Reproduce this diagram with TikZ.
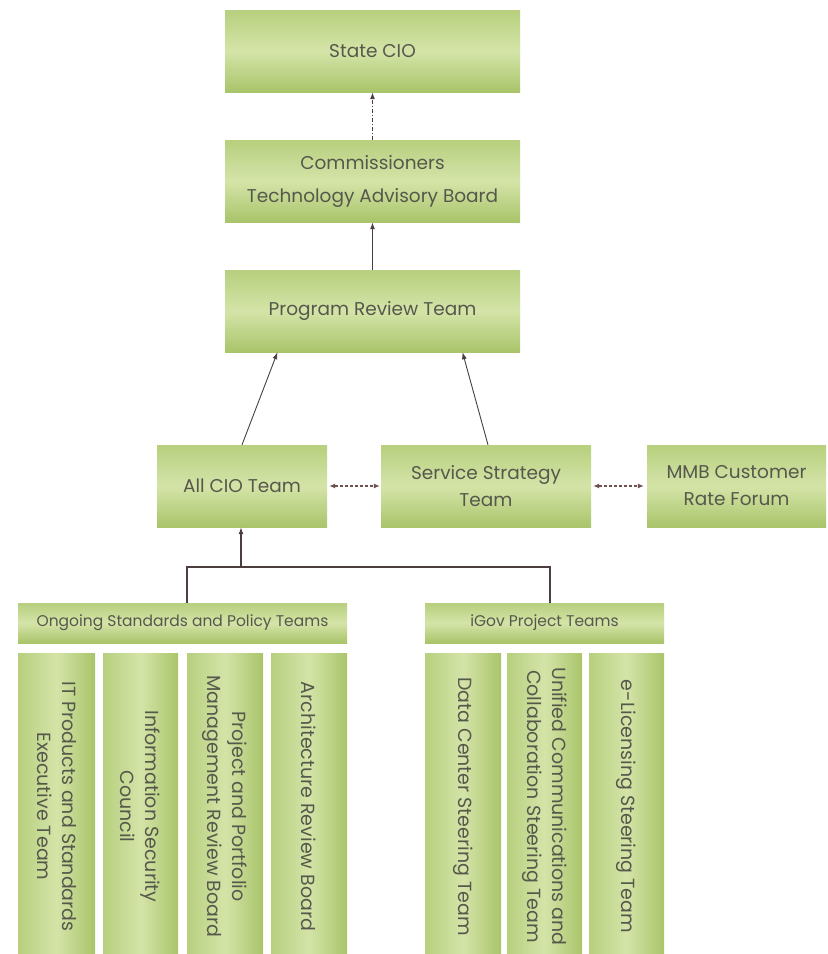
\documentclass[tikz,border=0pt]{standalone}
\usepackage{fontspec}
\setmainfont{Poppins}
\usetikzlibrary{arrows.meta}
\definecolor{gdark}{HTML}{A9C46A}
\definecolor{gtop}{HTML}{B7CF7E}
\definecolor{glight}{HTML}{D4E4A8}
\definecolor{txt}{HTML}{56584C}
\definecolor{lnc}{HTML}{4A3E3E}
\definecolor{dshc}{HTML}{6E5252}
\tikzset{
  hbox/.style={rectangle, top color=gtop, bottom color=gdark, middle color=glight, shading angle=0,
    text=txt, font=\fontsize{18.5}{27}\selectfont, align=center, inner sep=0pt, minimum height=82pt},
  hdr/.style={hbox, minimum height=40pt, font=\fontsize{15.5}{18}\selectfont},
  colbox/.style={rectangle, left color=gtop, right color=gdark, middle color=glight, inner sep=0pt,
    minimum height=301pt},
  coltext/.style={rotate=-90, text=txt, font=\fontsize{19}{25}\selectfont, align=center, inner sep=0pt},
  conn/.style={draw=lnc, line width=1.1pt, -{Latex[length=7pt,width=5pt]}},
  dconn/.style={draw=dshc, line width=1.1pt, dash pattern=on 3pt off 2pt, {Latex[length=6pt,width=5pt]}-{Latex[length=6pt,width=5pt]}},
}
\begin{document}
\begin{tikzpicture}[x=1pt,y=-1pt]
\useasboundingbox (0,0) rectangle (828,954);
\fill[white] (0,0) rectangle (828,954);
% top chain
\node[hbox, minimum width=295pt] (cio) at (372.5,51) {State CIO};
\node[hbox, minimum width=295pt, font=\fontsize{18.5}{33}\selectfont] (ctab) at (372.5,181) {Commissioners\\Technology Advisory Board};
\node[hbox, minimum width=295pt] (prt) at (372.5,311) {Program Review Team};
% middle row
\node[hbox, minimum width=170pt] (allcio) at (242,486) {All CIO Team};
\node[hbox, minimum width=210pt] (sst) at (486,486) {Service Strategy\\Team};
\node[hbox, minimum width=179pt] (mmb) at (736.5,486) {MMB Customer\\Rate Forum};
% headers
\node[hdr, minimum width=329pt] (ong) at (182.5,623) {Ongoing Standards and Policy Teams};
\node[hdr, minimum width=239pt] (igov) at (544.5,623) {iGov Project Teams};
% columns
\node[colbox, minimum width=77pt] (c1) at (56.5,803.5) {};
\node[colbox, minimum width=75pt] (c2) at (140.5,803.5) {};
\node[colbox, minimum width=76pt] (c3) at (225,803.5) {};
\node[colbox, minimum width=76pt] (c4) at (309,803.5) {};
\node[colbox, minimum width=76pt] (g1) at (463,803.5) {};
\node[colbox, minimum width=75pt] (g2) at (544.5,803.5) {};
\node[colbox, minimum width=75pt] (g3) at (626.5,803.5) {};
\node[coltext] (t1) at ([yshift=-3pt]c1.center) {IT Products and Standards\\Executive Team};
\node[coltext] (t2) at ([yshift=-3pt]c2.center) {Information Security\\Council};
\node[coltext] (t3) at ([yshift=-3pt]c3.center) {Project and Portfolio\\Management Review Board};
\node[coltext] (t4) at ([yshift=-3pt]c4.center) {Architecture Review Board};
\node[coltext] (u1) at ([yshift=-3pt]g1.center) {Data Center Steering Team};
\node[coltext] (u2) at ([yshift=-3pt]g2.center) {Unified Communications and\\Collaboration Steering Team};
\node[coltext] (u3) at ([yshift=-3pt]g3.center) {e-Licensing Steering Team};
% connectors
\draw[conn, dash pattern=on 4pt off 2pt on 1pt off 2pt] (ctab.north) -- (cio.south);
\draw[conn] (prt.north) -- (ctab.south);
\draw[conn, line width=0.9pt] (allcio.north) -- ([xshift=-95pt]prt.south);
\draw[conn, line width=0.9pt] ([xshift=2pt]sst.north) -- ([xshift=90pt]prt.south);
\draw[dconn] ([xshift=2pt]allcio.east) -- ([xshift=-1pt]sst.west);
\draw[dconn] ([xshift=2pt]sst.east) -- ([xshift=-3pt]mmb.west);
\coordinate (j) at (241,567);
\draw[draw=lnc, line width=1.1pt] ([xshift=4.5pt]ong.north) |- (j) -| ([xshift=5.5pt]igov.north);
\draw[conn] (j) -- ([xshift=-1pt]allcio.south);
\end{tikzpicture}
\end{document}
